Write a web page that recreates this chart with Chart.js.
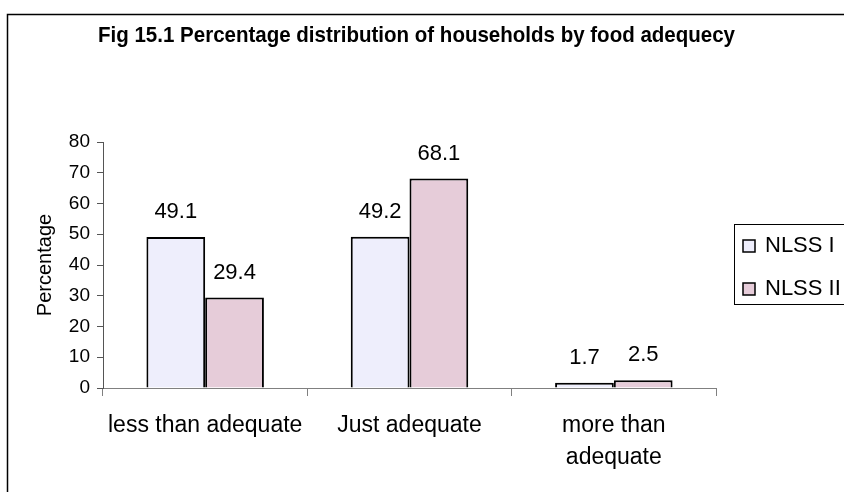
<!DOCTYPE html>
<html>
<head>
<meta charset="utf-8">
<script src="https://cdn.jsdelivr.net/npm/chart.js@4/dist/chart.umd.min.js"></script>
<style>
  html, body { margin: 0; padding: 0; background: #fff; }
  #wrap { width: 844px; height: 492px; }
</style>
</head>
<body>
<div id="wrap"><canvas id="c" width="844" height="492"></canvas></div>
<script>
// ---- data ----
const titleText = 'Fig 15.1 Percentage distribution of households by food adequecy';
const categories = [['less than adequate'], ['Just adequate'], ['more than', 'adequate']];
const seriesNames = ['NLSS I', 'NLSS II'];
const nlss1 = [49.1, 49.2, 1.7];
const nlss2 = [29.4, 68.1, 2.5];
const yTicks = [0, 10, 20, 30, 40, 50, 60, 70, 80];
const yAxisTitle = 'Percentage';

const FONT = '"Liberation Sans", Arial, sans-serif';

const decorPlugin = {
  id: 'decor',
  afterDatasetsDraw(chart) {
    const ctx = chart.ctx;
    ctx.save();
    ctx.fillStyle = '#000';
    ctx.font = '22px ' + FONT;
    ctx.textAlign = 'center';
    ctx.textBaseline = 'alphabetic';
    chart.data.datasets.forEach((ds, di) => {
      const meta = chart.getDatasetMeta(di);
      meta.data.forEach((el, i) => {
        ctx.fillText(ds.data[i].toFixed(1), el.x, el.y - 19);
      });
    });
    ctx.restore();
  },
  afterDraw(chart) {
    const ctx = chart.ctx;
    ctx.save();
    // outer border
    ctx.strokeStyle = '#000';
    ctx.lineWidth = 1.5;
    ctx.strokeRect(7.5, 14.5, 900, 600);
    // title
    ctx.fillStyle = '#000';
    ctx.font = 'bold 22px "Liberation Sans Narrow", "Liberation Sans", Arial, sans-serif';
    ctx.textBaseline = 'alphabetic';
    ctx.textAlign = 'left';
    const w = ctx.measureText(titleText).width;
    const target = 637;
    const sx = target / w;
    ctx.save();
    ctx.translate(98, 42);
    ctx.scale(sx, 1);
    ctx.fillText(titleText, 0, 0);
    ctx.restore();
    // legend
    ctx.lineWidth = 1;
    ctx.strokeStyle = '#000';
    ctx.strokeRect(734.5, 224.5, 200, 80);
    ctx.font = '22px ' + FONT;
    const baselines = [252, 295];
    chart.data.datasets.forEach((ds, i) => {
      const by = baselines[i];
      ctx.fillStyle = ds.backgroundColor;
      ctx.fillRect(743, by - 12, 12, 12);
      ctx.lineWidth = 1.5;
      ctx.strokeStyle = '#000';
      ctx.strokeRect(743, by - 12, 12, 12);
      ctx.fillStyle = '#000';
      ctx.fillText(ds.label, 765, by);
    });
    ctx.restore();
  }
};

new Chart(document.getElementById('c'), {
  type: 'bar',
  data: {
    labels: categories,
    datasets: [
      { label: seriesNames[0], data: nlss1, backgroundColor: '#EEEEFC', borderColor: '#000', borderWidth: 2 },
      { label: seriesNames[1], data: nlss2, backgroundColor: '#E6CCD9', borderColor: '#000', borderWidth: 2 }
    ]
  },
  options: {
    responsive: false,
    animation: false,
    devicePixelRatio: 1,
    layout: { padding: { top: 142, right: 128, left: 0, bottom: 0 } },
    datasets: { bar: { categoryPercentage: 0.575, barPercentage: 1.0 } },
    plugins: {
      legend: { display: false },
      tooltip: { enabled: false },
      title: { display: false }
    },
    scales: {
      x: {
        grid: { offset: true, drawOnChartArea: false, drawTicks: true, tickLength: 8, color: '#808080', lineWidth: 1 },
        border: { color: '#808080', width: 1 },
        ticks: { color: '#000', font: { family: FONT, size: 23, lineHeight: 1.39 }, padding: 14, maxRotation: 0, autoSkip: false },
        afterFit(s) { s.height = 104; }
      },
      y: {
        min: 0,
        max: 80,
        afterBuildTicks(s) { s.ticks = yTicks.map(v => ({ value: v })); },
        grid: { drawOnChartArea: false, drawTicks: true, tickLength: 6, color: '#555', lineWidth: 1 },
        border: { color: '#555', width: 1 },
        ticks: { color: '#000', font: { family: FONT, size: 19 }, padding: 7 },
        title: { display: true, text: yAxisTitle, color: '#000', font: { family: FONT, size: 20 }, padding: { top: 33, bottom: 0 } },
        afterFit(s) { s.width = 103; }
      }
    }
  },
  plugins: [decorPlugin]
});
</script>
</body>
</html>
